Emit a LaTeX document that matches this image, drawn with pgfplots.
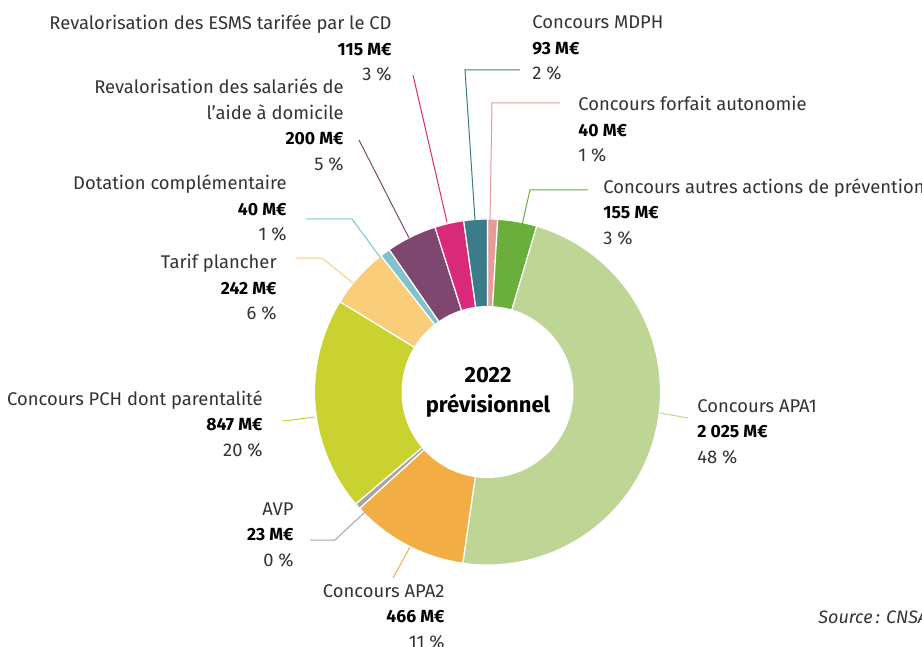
\documentclass[border=0pt]{standalone}
\usepackage{fontspec}
\setmainfont{Fira Sans}
\usepackage{pgfplots}
\usepackage{pgfplotstable}
\pgfplotsset{compat=1.18}

\definecolor{txt}{HTML}{333333}
\definecolor{cForfait}{HTML}{E89A9B}
\definecolor{cPrev}{HTML}{6AAF3B}
\definecolor{cApaA}{HTML}{BFD595}
\definecolor{cApaB}{HTML}{F2AE45}
\definecolor{cAvp}{HTML}{A5A5A5}
\definecolor{cPch}{HTML}{C9D22E}
\definecolor{cTarif}{HTML}{F9CD7A}
\definecolor{cDot}{HTML}{7EC3CE}
\definecolor{cSal}{HTML}{7E4770}
\definecolor{cEsms}{HTML}{D92A7A}
\definecolor{cMdph}{HTML}{3B7C8A}

% montants en M€, dans l'ordre horaire depuis midi
\pgfplotstableread{
value col
40 cForfait
155 cPrev
2025 cApaA
466 cApaB
23 cAvp
847 cPch
242 cTarif
40 cDot
200 cSal
115 cEsms
93 cMdph
}\donut

\tikzset{lbl/.style={inner sep=0pt,text=txt,font=\fontsize{9.2}{10}\selectfont},
         val/.style={inner sep=0pt,text=black,font=\fontsize{8.8}{10}\selectfont\bfseries}}
% étiquette alignée à droite / à gauche : x, ligne de base, nom, montant, part
\newcommand\labR[5]{%
  \node[lbl,anchor=base east] at (axis cs:#1,#2) {#3};
  \node[val,anchor=base east,yshift=-12.75pt] at (axis cs:#1,#2) {#4};
  \node[lbl,anchor=base east,yshift=-25.5pt] at (axis cs:#1,#2) {#5};}
\newcommand\labL[5]{%
  \node[lbl,anchor=base west] at (axis cs:#1,#2) {#3};
  \node[val,anchor=base west,yshift=-12.75pt] at (axis cs:#1,#2) {#4};
  \node[lbl,anchor=base west,yshift=-25.5pt] at (axis cs:#1,#2) {#5};}

\begin{document}
\begin{tikzpicture}
\begin{axis}[
    name=ax,
    width=461pt, height=323.5pt,
    scale only axis,
    xmin=0, xmax=922, ymin=0, ymax=647,
    y dir=reverse,
    hide axis,
    clip=false,
]
% total
\pgfplotstablegetrowsof{\donut}
\pgfmathtruncatemacro\nrows{\pgfplotsretval-1}
\gdef\total{0}
\pgfplotsforeachungrouped \i in {0,...,\nrows}{%
  \pgfplotstablegetelem{\i}{value}\of\donut
  \pgfmathsetmacro\tt{\total+\pgfplotsretval}%
  \global\let\total\tt
}
% secteurs
\gdef\angA{90}
\pgfplotsforeachungrouped \i in {0,...,\nrows}{%
  \pgfplotstablegetelem{\i}{value}\of\donut \let\val\pgfplotsretval
  \pgfplotstablegetelem{\i}{col}\of\donut \let\col\pgfplotsretval
  \pgfmathsetmacro\angB{\angA-360*(\val/\total)}%
  \edef\tmp{\noexpand\fill[\col,draw=white,line width=0.6pt]
    (axis cs:487.5,392) -- ++(\angA:86.5pt)
    arc[start angle=\angA,end angle=\angB,radius=86.5pt] -- cycle;}%
  \tmp
  \global\let\angA\angB
}
\fill[white] (axis cs:487.5,392) circle[radius=43pt];

% traits de rappel
\draw[cEsms,line width=0.5pt] (axis cs:413,75) -- (axis cs:447,222);
\draw[cSal,line width=0.5pt] (axis cs:359,140) -- (axis cs:409,238);
\draw[cDot,line width=0.5pt] (axis cs:306,219) -- (axis cs:352,219) -- (axis cs:380,257);
\draw[cTarif,line width=0.5pt] (axis cs:296,258) -- (axis cs:322,258) -- (axis cs:353,283);
\draw[cPch,line width=0.5pt] (axis cs:283,421) -- (axis cs:315,417);
\draw[cAvp,line width=0.5pt] (axis cs:310,540) -- (axis cs:335,540) -- (axis cs:365,512);
\draw[cApaB,line width=0.5pt] (axis cs:393,578) -- (axis cs:410,547);
\draw[cApaA,line width=0.5pt] (axis cs:660,413) -- (axis cs:688,418);
\draw[cMdph,line width=0.5pt] (axis cs:520,70) -- (axis cs:465,70) -- (axis cs:475,220);
\draw[cForfait,line width=0.5pt] (axis cs:560,103) -- (axis cs:492,103) -- (axis cs:490,220);
\draw[cPrev,line width=0.5pt] (axis cs:588,190) -- (axis cs:530,190) -- (axis cs:522,225);

% étiquettes
\labR{392}{30}{Revalorisation des ESMS tarifée par le CD}{115 M€}{3 \%}
\node[lbl,anchor=base east] at (axis cs:344,94) {Revalorisation des salariés de};
\labR{344}{119.5}{l’aide à domicile}{200 M€}{5 \%}
\labR{287}{190}{Dotation complémentaire}{40 M€}{1 \%}
\labR{277}{269}{Tarif plancher}{242 M€}{6 \%}
\labR{263}{405}{Concours PCH dont parentalité}{847 M€}{20 \%}
\labR{294}{515}{AVP}{23 M€}{0 \%}
\labR{445}{597}{Concours APA2}{466 M€}{11 \%}
\labL{697}{412}{Concours APA1}{2 025 M€}{48 \%}
\labL{532}{29}{Concours MDPH}{93 M€}{2 \%}
\labL{578}{111}{Concours forfait autonomie}{40 M€}{1 \%}
\labL{603}{193}{Concours autres actions de prévention}{155 M€}{3 \%}

\node[inner sep=0pt,anchor=base,font=\fontsize{11}{13}\selectfont\bfseries] at (axis cs:488,382) {2022};
\node[inner sep=0pt,anchor=base,font=\fontsize{11}{13}\selectfont\bfseries] at (axis cs:488,412) {prévisionnel};
\node[lbl,anchor=base west,font=\fontsize{9}{10}\selectfont\itshape] at (axis cs:818,623) {Source\,: CNSA};
\end{axis}
\pgfresetboundingbox
\path[use as bounding box] (ax.south west) rectangle (ax.north east);
\end{tikzpicture}
\end{document}
